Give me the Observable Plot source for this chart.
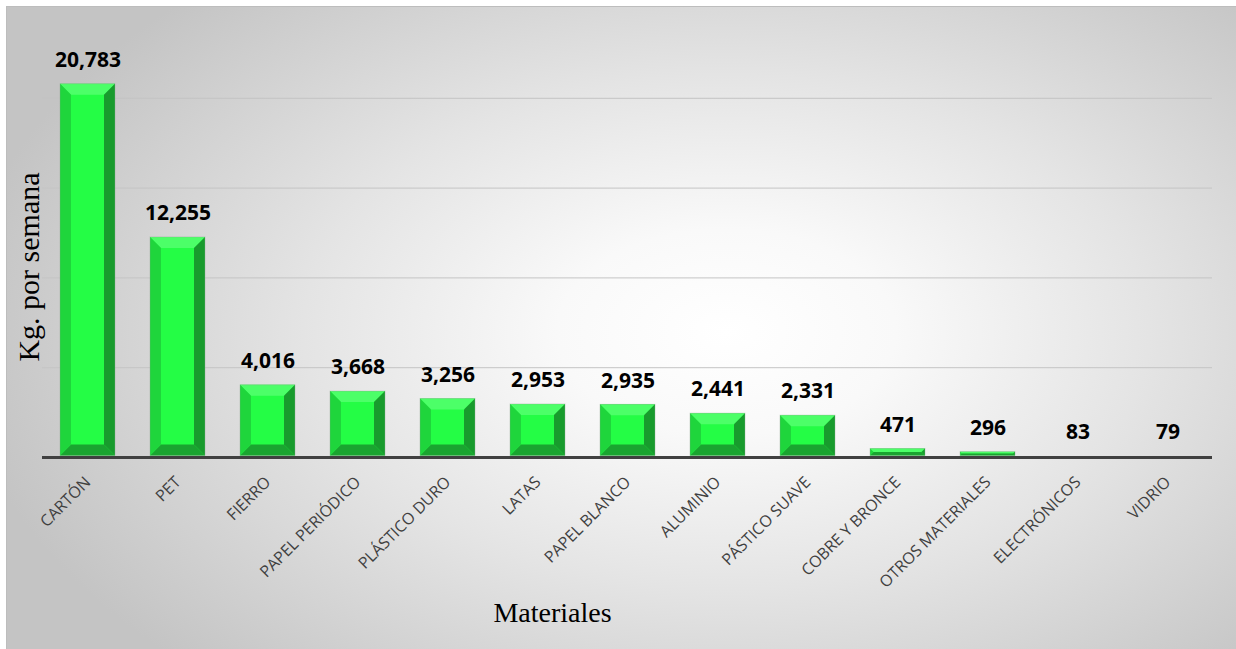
<!DOCTYPE html>
<html>
<head>
<meta charset="utf-8">
<script src="https://cdn.jsdelivr.net/npm/d3@7"></script>
<script src="https://cdn.jsdelivr.net/npm/@observablehq/plot@0.6"></script>
<style>
  body { margin: 0; background: #ffffff; }
  #chart { position: relative; width: 1236px; height: 649px; overflow: hidden; }
  #panel {
    position: absolute; left: 6px; top: 6px; width: 1240px; height: 650px;
    border-top: 1px solid #bdbdbd; border-left: 1px solid #bdbdbd;
    background: radial-gradient(ellipse 62% 72% at 58% 50%, #ffffff 0%, #f9f9f9 22%, #e4e4e4 55%, #c4c4c4 100%);
  }
  #chart svg { position: absolute; left: 0; top: 0; }
</style>
</head>
<body>
<div id="chart"><div id="panel"></div></div>
<script>
// Recycled materials collected per week (kg)
const materials = [
  "CARTÓN", "PET", "FIERRO", "PAPEL PERIÓDICO", "PLÁSTICO DURO", "LATAS",
  "PAPEL BLANCO", "ALUMINIO", "PÁSTICO SUAVE", "COBRE Y BRONCE",
  "OTROS MATERIALES", "ELECTRÓNICOS", "VIDRIO"
];
const kgPerWeek = [20783, 12255, 4016, 3668, 3256, 2953, 2935, 2441, 2331, 471, 296, 83, 79];
const gridTicks = [5000, 10000, 15000, 20000];
const yTitle = "Kg. por semana";
const xTitle = "Materiales";

const rows = materials.map((m, i) => ({material: m, kg: kgPerWeek[i]}));

const W = 1236, H = 649;
const mLeft = 42, mRight = 24, mTop = 8, mBottom = 192;
const padInner = 0.39;
const SVGNS = "http://www.w3.org/2000/svg";

// Bevelled bar: face plus four sloped edges, lit from the top-left
function bevelBars(index, scales, values, dims) {
  const step = (dims.width - dims.marginLeft - dims.marginRight) / materials.length;
  let bw = scales.x && scales.x.bandwidth;
  if (typeof bw === "function") bw = bw();
  bw = Number(bw);
  if (!(bw > 0)) bw = step * (1 - padInner);
  const g = document.createElementNS(SVGNS, "g");
  const shape = (pts, fill) => {
    const p = document.createElementNS(SVGNS, "path");
    p.setAttribute("d", "M" + pts.map(q => Number(q[0]).toFixed(2) + "," + Number(q[1]).toFixed(2)).join("L") + "Z");
    p.setAttribute("fill", fill);
    g.appendChild(p);
  };
  for (const i of index) {
    const x0 = Number(values.x[i]), x1 = x0 + bw;
    const y0 = Math.min(values.y1[i], values.y2[i]);
    const y1 = Math.max(values.y1[i], values.y2[i]) - 1.5;
    const b = Math.min(11, (y1 - y0) / 2, bw / 2);
    shape([[x0, y0], [x1, y0], [x1, y1], [x0, y1]], "#24fd45");
    shape([[x0, y0], [x1, y0], [x1 - b, y0 + b], [x0 + b, y0 + b]], "#4cff68");
    shape([[x1, y0], [x1, y1], [x1 - b, y1 - b], [x1 - b, y0 + b]], "#189b2d");
    shape([[x0, y1], [x1, y1], [x1 - b, y1 - b], [x0 + b, y1 - b]], "#1aa430");
    shape([[x0, y0], [x0 + b, y0 + b], [x0 + b, y1 - b], [x0, y1]], "#1fd53c");
    const r = document.createElementNS(SVGNS, "rect");
    r.setAttribute("x", x0); r.setAttribute("y", y0);
    r.setAttribute("width", bw); r.setAttribute("height", y1 - y0);
    r.setAttribute("fill", "none"); r.setAttribute("stroke", "#8fa890");
    r.setAttribute("stroke-opacity", 0.45); r.setAttribute("stroke-width", 0.8);
    g.appendChild(r);
  }
  return g;
}

const chart = Plot.plot({
  width: W,
  height: H,
  marginLeft: mLeft,
  marginRight: mRight,
  marginTop: mTop,
  marginBottom: mBottom,
  style: {background: "transparent", fontFamily: "Open Sans, sans-serif", overflow: "visible"},
  x: {domain: materials, paddingInner: padInner, paddingOuter: padInner / 2, axis: null},
  y: {domain: [0, 25000], axis: null},
  marks: [
    Plot.ruleY(gridTicks, {stroke: "#c4c4c4", strokeWidth: 1}),
    Plot.barY(rows, {x: "material", y: "kg", render: bevelBars}),
    Plot.ruleY([0], {stroke: "#404040", strokeWidth: 3}),
    Plot.text(rows, {
      x: "material", y: "kg", text: d => d3.format(",")(d.kg),
      dy: -24, lineAnchor: "middle", fontSize: 21, fontWeight: 700, fill: "#000000"
    }),
    Plot.text(materials, {
      x: d => d, frameAnchor: "bottom", dy: 22, rotate: -45,
      textAnchor: "end", lineAnchor: "middle", fontSize: 16, fill: "#404040"
    }),
    Plot.text([yTitle], {
      frameAnchor: "left", dx: -13, dy: 34, rotate: -90, textAnchor: "middle", lineAnchor: "middle",
      fontFamily: "Liberation Serif, Times New Roman, serif", fontSize: 30, fill: "#000000"
    }),
    Plot.text([xTitle], {
      frameAnchor: "bottom", dx: -75, dy: 156, textAnchor: "middle", lineAnchor: "middle",
      fontFamily: "Liberation Serif, Times New Roman, serif", fontSize: 28, fill: "#000000"
    })
  ]
});

document.getElementById("chart").appendChild(chart);
</script>
</body>
</html>
